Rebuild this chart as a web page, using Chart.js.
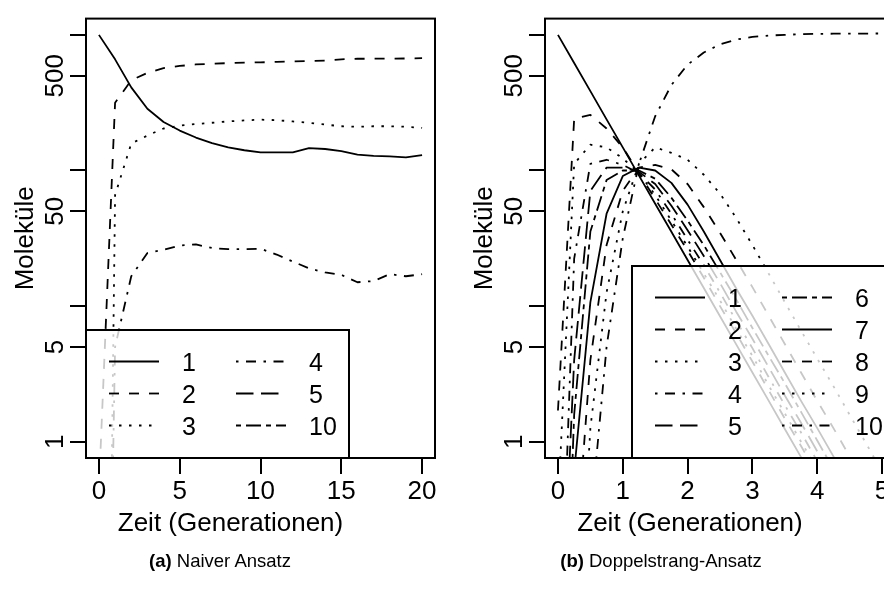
<!DOCTYPE html>
<html><head><meta charset="utf-8">
<script src="https://cdn.jsdelivr.net/npm/chart.js@4.4.1/dist/chart.umd.min.js"></script>
<style>
html,body{margin:0;padding:0;background:#fff;}
body{width:884px;height:594px;overflow:hidden;position:relative;}
canvas{position:absolute;top:0;}
#ca{left:0;width:440px;height:594px;}
#cb{left:440px;width:460px;height:594px;}
.cap{position:absolute;top:552px;width:320px;text-align:center;font-family:"Liberation Sans",Arial,Helvetica,sans-serif;font-size:18.5px;line-height:18.5px;color:#000;white-space:nowrap;}
</style></head><body>
<canvas id="ca" width="440" height="594"></canvas>
<canvas id="cb" width="460" height="594"></canvas>
<div class="cap" style="left:60px"><b>(a)</b> Naiver Ansatz</div>
<div class="cap" style="left:501px"><b>(b)</b> Doppelstrang-Ansatz</div>
<script>
// ---------- data: panel (a) Naiver Ansatz ----------
const timeA = [0,1,2,3,4,5,6,7,8,9,10,11,12,13,14,15,16,17,18,19,20];
const a1  = [1000,660,410,285,228,197,175,159,148,141,136,136,136,146,144,139,131,128,127,125,130];
const a2  = [0.45,316,462,525,569,590,605,612,619,624,627,632,637,641,646,660,667,667,668,670,673];
const a3  = [1e-8,66,158,181,204,214,220,225,230,234,237,235,230,225,218,212,210,212,212,210,206];
const a4  = [1e-6,5.0,16.6,24.6,26,28,28.5,26.8,26.3,26.3,26.5,24,21.3,19,17.7,17,15,15.3,17.2,16.6,17.2];
const a5  = [null,null,null,null,null,null,null,null,null,null,null,null,null,null,null,null,null,null,null,null,null];
const a10 = [null,null,null,null,null,null,null,null,null,null,null,null,null,null,null,null,null,null,null,null,null];
const labelsA = ['1','2','3','4','5','10'];
const ltyA = ['solid','dashed','dotted','dotdash','longdash','twodash'];

// ---------- data: panel (b) Doppelstrang-Ansatz ----------
const timeB = [0,0.25,0.5,0.75,1,1.25,1.5,1.75,2,2.25,2.5,2.75,3,3.25,3.5,3.75,4,4.25,4.5,4.75,5];
const b1  = [1000,620,385,238,148,91.7,56.9,35.3,21.9,13.6,8.41,5.22,3.24,2.01,1.24,0.77,0.48,0.3,0.18,0.11,0.07];
const b2  = [1.7,240,257,204,148,95.5,61.7,39.8,25.7,16.2,10,6.3,3.9,2.4,1.48,0.93,0.58,0.35,0.22,0.14,0.087];
const b3  = [0.32,112,155,148,123,95.5,66,42.7,27.5,17.4,11,6.8,4.3,2.6,1.62,1.0,0.63,0.39,0.24,0.15,0.094];
const b4  = [0.01,22.4,112,120,110,95.5,72.4,47.9,30.9,20,12.6,7.8,4.9,3.0,1.86,1.17,0.72,0.45,0.28,0.17,0.11];
const b5  = [0.01,4.0,70.8,105,105,97.7,79.4,55,36.3,23.4,14.8,9.1,5.75,3.55,2.19,1.38,0.85,0.52,0.32,0.2,0.12];
const b6  = [0.001,1.58,35.5,85,100,100,87,63,42.7,28.2,17.8,11.2,6.9,4.3,2.7,1.66,1.02,0.63,0.39,0.24,0.15];
const b7  = [0.001,0.6,10.7,48,91,105,100,81,56,35.5,21.9,13.5,8.5,5.25,3.24,2.0,1.26,0.78,0.48,0.3,0.18];
const b8  = [0.0001,0.1,4.0,28.2,70.8,105,110,102,79.4,53.7,34.7,21.9,13.8,8.5,5.25,3.24,2.0,1.26,0.78,0.48,0.3];
const b9  = [0.00001,0.01,1.26,12.6,50,112,148,135,120,93,67.6,44.7,28.2,17.4,10.7,6.6,4.1,2.57,1.58,0.98,0.6];
const b10 = [1e-6,0.001,0.25,5.0,31.6,112,251,427,603,741,851,923,966,989,1000,1012,1018,1020,1022,1023,1024];
const labelsB = ['1','2','3','4','5','6','7','8','9','10'];
const ltyB = ['solid','dashed','dotted','dotdash','longdash','twodash','solid','dashed','dotted','dotdash'];

// ---------- axes ----------
const xTicksA = [0,5,10,15,20];
const xTicksB = [0,1,2,3,4,5];
const yTicks = [1,5,10,50,100,500,1000];
const yTickLabels = [1,5,50,500];
const yTitle = 'Moleküle';
const xTitle = 'Zeit (Generationen)';

// ---------- styling ----------
const FONT = '"Liberation Sans", Arial, Helvetica, sans-serif';
const FS = 26;
const LTY = {solid:[], dashed:[10,10], dotted:[2.5,7.5], dotdash:[2.5,7.5,10,7.5], longdash:[17.5,7.5], twodash:[5,5,15,5]};
Chart.defaults.font.family = FONT;
Chart.defaults.color = '#000';

const frame = {
  id: 'frame',
  afterDatasetsDraw(chart, args, o) {
    const {ctx, chartArea: a} = chart;
    const W = 263, rowH = 32, rows = o.rows;
    const H = (rows + 1) * rowH;
    const left = o.legendSide === 'left' ? a.left : a.right - W;
    const top = a.bottom - H;
    ctx.save();
    ctx.fillStyle = 'rgba(255,255,255,0.78)';
    ctx.fillRect(left, top, W, H);
    ctx.lineWidth = 2; ctx.strokeStyle = '#000';
    ctx.strokeRect(left, top, W, H);
    ctx.font = '25px ' + FONT; ctx.fillStyle = '#000';
    ctx.textAlign = 'left'; ctx.textBaseline = 'alphabetic';
    chart.data.datasets.forEach((ds, i) => {
      const col = Math.floor(i / rows), row = i % rows;
      const y = top + rowH * (row + 1) - 0.5;
      const x0 = left + 23 + col * 127;
      ctx.beginPath();
      ctx.setLineDash(ds.borderDash || []);
      ctx.lineWidth = 1.8;
      ctx.moveTo(x0, y); ctx.lineTo(x0 + 50, y); ctx.stroke();
      ctx.setLineDash([]);
      ctx.fillText(ds.label, x0 + 73, y + 9);
    });
    ctx.restore();
  },
  afterDraw(chart, args, o) {
    const {ctx, chartArea: a} = chart;
    const ys = chart.scales.y;
    ctx.save();
    ctx.lineWidth = 2; ctx.strokeStyle = '#000'; ctx.setLineDash([]);
    ctx.strokeRect(a.left, a.top, a.right - a.left, a.bottom - a.top);
    ctx.fillStyle = '#000';
    ctx.font = FS + 'px ' + FONT;
    ctx.textAlign = 'center'; ctx.textBaseline = 'alphabetic';
    yTickLabels.forEach(v => {
      const py = ys.getPixelForValue(v);
      ctx.save(); ctx.translate(a.left - 23, py); ctx.rotate(-Math.PI / 2);
      ctx.fillText(String(v), 0, 0); ctx.restore();
    });
    ctx.save(); ctx.translate(a.left - 53, (a.top + a.bottom) / 2); ctx.rotate(-Math.PI / 2);
    ctx.fillText(yTitle, 0, 0); ctx.restore();
    ctx.fillText(xTitle, (a.left + a.right) / 2 - 30, 531);
    ctx.restore();
  }
};

function makeChart(id, time, series, labels, ltys, xMin, xMax, xTicks, rows, legendSide, yWidth) {
  const datasets = series.map((s, i) => ({
    label: labels[i],
    data: time.map((x, j) => ({x: x, y: s[j]})),
    borderColor: '#000', borderWidth: 1.8, borderDash: LTY[ltys[i]],
    borderJoinStyle: 'round', pointRadius: 0, tension: 0, fill: false, spanGaps: false
  }));
  return new Chart(document.getElementById(id), {
    type: 'line',
    data: {datasets},
    options: {
      responsive: false, animation: false, parsing: true,
      layout: {padding: {top: 10, right: 5, left: 0, bottom: 0}},
      plugins: {legend: {display: false}, tooltip: {enabled: false},
                frame: {rows: rows, legendSide: legendSide}},
      scales: {
        x: {
          type: 'linear', position: 'bottom', min: xMin, max: xMax,
          border: {display: false},
          grid: {drawOnChartArea: false, drawTicks: true, tickLength: 16, color: '#000', lineWidth: 2},
          ticks: {font: {size: FS}, color: '#000', padding: 2, maxRotation: 0, minRotation: 0, autoSkip: false},
          afterBuildTicks: s => { s.ticks = xTicks.map(v => ({value: v})); },
          afterFit: s => { s.height = 136; }
        },
        y: {
          type: 'logarithmic', position: 'left', min: Math.pow(10, -0.12), max: Math.pow(10, 3.12),
          border: {display: false},
          grid: {drawOnChartArea: false, drawTicks: true, tickLength: 16, color: '#000', lineWidth: 2},
          ticks: {font: {size: FS}, autoSkip: false, callback: () => ''},
          afterBuildTicks: s => { s.ticks = yTicks.map(v => ({value: v})); },
          afterFit: s => { s.width = yWidth; }
        }
      }
    },
    plugins: [frame]
  });
}

makeChart('ca', timeA, [a1, a2, a3, a4, a5, a10], labelsA, ltyA, -0.8, 20.8, xTicksA, 3, 'left', 86);
makeChart('cb', timeB, [b1, b2, b3, b4, b5, b6, b7, b8, b9, b10], labelsB, ltyB, -0.2, 5.2, xTicksB, 5, 'right', 105);
</script>
</body></html>
